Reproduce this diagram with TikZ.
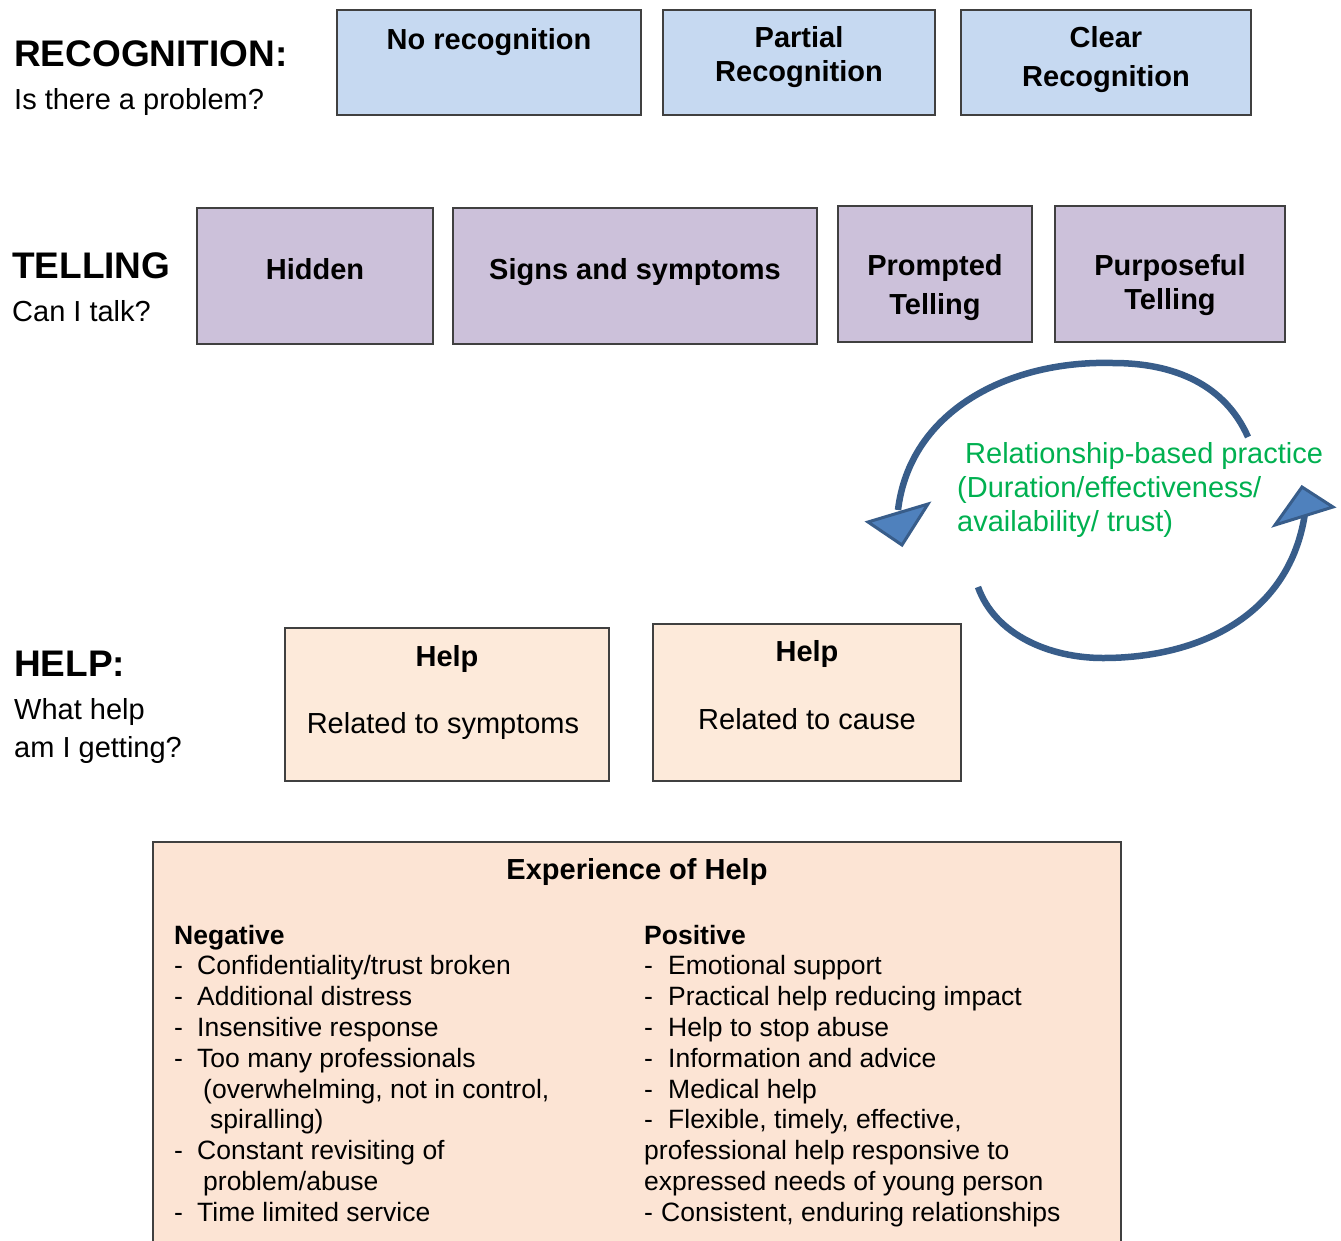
\documentclass[tikz,border=0pt]{standalone}
\usepackage{fontspec}
\setmainfont{Liberation Sans}
\definecolor{recfill}{RGB}{198,217,241}
\definecolor{telfill}{RGB}{204,193,218}
\definecolor{helpfill}{RGB}{253,234,218}
\definecolor{expfill}{RGB}{252,228,212}
\definecolor{boxline}{RGB}{64,64,64}
\definecolor{cycleline}{RGB}{56,93,138}
\definecolor{cyclefill}{RGB}{79,129,189}
\definecolor{practice}{RGB}{0,176,80}
\newcommand{\fsBig}{\fontsize{37pt}{44pt}\selectfont}
\newcommand{\fsMid}{\fontsize{29pt}{34pt}\selectfont}
\newcommand{\fsSmall}{\fontsize{26.5pt}{31pt}\selectfont}
\begin{document}
\begin{tikzpicture}[x=1pt,y=-1pt,
  box/.style={draw=boxline, line width=1.3pt},
  txt/.style={inner sep=0pt, anchor=base, font=\fsMid, yshift=1pt},
  boxtxt/.style={txt, font=\fsMid\bfseries},
  head/.style={inner sep=0pt, anchor=base west, font=\fsBig\bfseries, yshift=1pt},
  sub/.style={inner sep=0pt, anchor=base west, font=\fsMid, yshift=1pt},
  item/.style={inner sep=0pt, anchor=base west, font=\fsSmall, yshift=0.5pt},
  green/.style={inner sep=0pt, anchor=base west, font=\fsMid, text=practice, yshift=1pt},
  cycle/.style={draw=cycleline, line width=6.5pt},
  tip/.style={draw=cycleline, fill=cyclefill, line width=3pt, line join=miter}]
\useasboundingbox (0,0) rectangle (1341,1240);

% ---- Recognition row
\node[head] (rech) at (14,67) {RECOGNITION:};
\node[sub] (recs) at (14,110) {Is there a problem?};
\draw[box, fill=recfill] (337,10) rectangle (641,115);
\draw[box, fill=recfill] (663,10) rectangle (935,115);
\draw[box, fill=recfill] (961,10) rectangle (1251,115);
\node[boxtxt] (norec) at (489,50) {No recognition};
\node[boxtxt] (partA) at (799,48) {Partial};
\node[boxtxt] (partB) at (799,82) {Recognition};
\node[boxtxt] (clearA) at (1106,48) {Clear};
\node[boxtxt] (clearB) at (1106,87) {Recognition};

% ---- Telling row
\node[head] (telh) at (12,279) {TELLING};
\node[sub] (tels) at (12,322) {Can I talk?};
\draw[box, fill=telfill] (197,208) rectangle (433,344);
\draw[box, fill=telfill] (453,208) rectangle (817,344);
\draw[box, fill=telfill] (838,206) rectangle (1032,342);
\draw[box, fill=telfill] (1055,206) rectangle (1285,342);
\node[boxtxt] (hidden) at (315,280) {Hidden};
\node[boxtxt] (signs) at (635,280) {Signs and symptoms};
\node[boxtxt] (promA) at (935,276) {Prompted};
\node[boxtxt] (promB) at (935,315) {Telling};
\node[boxtxt] (purpA) at (1170,276) {Purposeful};
\node[boxtxt] (purpB) at (1170,310) {Telling};

% ---- Relationship-based practice cycle
\draw[cycle] (1248,437) .. controls (1225,385) and (1175,363) .. (1113,363)
             .. controls (1010,360) and (910,410) .. (898,510);
\draw[tip] (868,522) -- (928,504) -- (902,545) -- cycle;
\draw[cycle] (978,587) .. controls (995,635) and (1050,658) .. (1103,658)
             .. controls (1200,658) and (1290,615) .. (1305,513);
\draw[tip] (1275,525) -- (1333,507) -- (1302,487) -- cycle;
\node[green] (rbpA) at (965,464) {Relationship-based practice};
\node[green] (rbpB) at (957,498) {(Duration/effectiveness/};
\node[green] (rbpC) at (957,532) {availability/ trust)};

% ---- Help row
\node[head] (helph) at (14,677) {HELP:};
\node[sub] (helpsA) at (14,720) {What help};
\node[sub] (helpsB) at (14,758) {am I getting?};
\draw[box, fill=helpfill] (285,628) rectangle (609,781);
\draw[box, fill=helpfill] (653,624) rectangle (961,781);
\node[boxtxt] (helpA) at (447,667) {Help};
\node[txt] (symp) at (443,734) {Related to symptoms};
\node[boxtxt] (helpB) at (807,662) {Help};
\node[txt] (cause) at (807,730) {Related to cause};

% ---- Experience of help
\draw[box, fill=expfill] (153,842) -- (153,1250) -- (1121,1250) -- (1121,842) -- cycle;
\node[boxtxt] (exph) at (637,880) {Experience of Help};

\node[item, font=\fsSmall\bfseries] (neg) at (174,944.5) {Negative};
\node[item] (n1) at (174,975.3) {\makebox[23pt][l]{-}Confidentiality/trust broken};
\node[item] (n2) at (174,1006.1) {\makebox[23pt][l]{-}Additional distress};
\node[item] (n3) at (174,1036.9) {\makebox[23pt][l]{-}Insensitive response};
\node[item] (n4) at (174,1067.7) {\makebox[23pt][l]{-}Too many professionals};
\node[item] (n5) at (203,1098.5) {(overwhelming, not in control,};
\node[item] (n6) at (210,1129.3) {spiralling)};
\node[item] (n7) at (174,1160.1) {\makebox[23pt][l]{-}Constant revisiting of};
\node[item] (n8) at (203,1190.9) {problem/abuse};
\node[item] (n9) at (174,1221.7) {\makebox[23pt][l]{-}Time limited service};

\node[item, font=\fsSmall\bfseries] (pos) at (644,944.5) {Positive};
\node[item] (p1) at (644,975.3) {\makebox[24pt][l]{-}Emotional support};
\node[item] (p2) at (644,1006.1) {\makebox[24pt][l]{-}Practical help reducing impact};
\node[item] (p3) at (644,1036.9) {\makebox[24pt][l]{-}Help to stop abuse};
\node[item] (p4) at (644,1067.7) {\makebox[24pt][l]{-}Information and advice};
\node[item] (p5) at (644,1098.5) {\makebox[24pt][l]{-}Medical help};
\node[item] (p6) at (644,1129.3) {\makebox[24pt][l]{-}Flexible, timely, effective,};
\node[item] (p7) at (644,1160.1) {professional help responsive to};
\node[item] (p8) at (644,1190.9) {expressed needs of young person};
\node[item] (p9) at (644,1221.7) {\makebox[17pt][l]{-}Consistent, enduring relationships};
\end{tikzpicture}
\end{document}
